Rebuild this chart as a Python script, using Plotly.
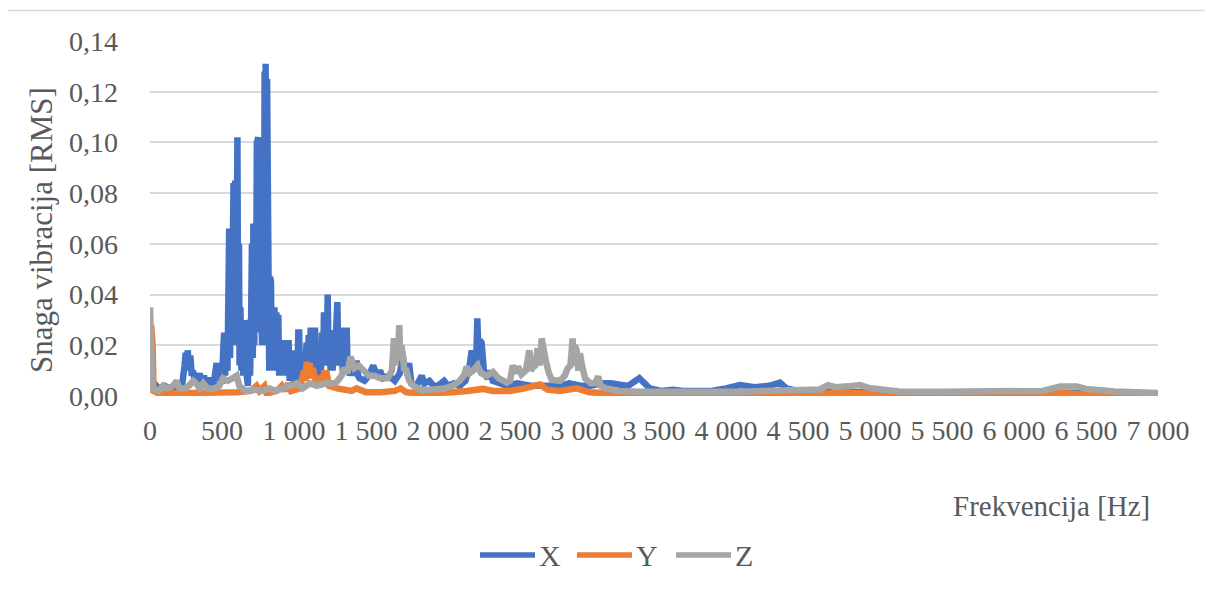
import plotly.graph_objects as go

# ---------------- data ----------------
freq_x = [0, 10, 30, 60, 100, 140, 180, 220, 240, 248, 255, 262, 270, 280, 290, 298, 310, 320, 335, 345,
          360, 375, 390, 417, 440, 463, 475, 486, 495,
          500, 510, 515, 522, 530, 538, 545, 550, 556, 562, 568, 574, 580, 585, 592, 598, 603, 607, 612, 618,
          622, 628, 635, 642, 648, 655, 662, 668, 674,
          680, 688, 695, 702, 708, 714, 718, 724, 730, 736, 742, 748, 752, 757, 763, 768, 773, 778, 784, 790,
          796, 800, 803, 808, 813, 818, 823, 828, 834, 840, 846, 852, 858, 864, 870, 877, 884, 891, 897, 904,
          910, 918, 925, 932, 940, 948, 955, 962, 970, 978, 985, 991, 998,
          1005, 1015, 1022, 1030, 1036, 1042, 1050, 1058, 1066, 1074, 1082, 1088, 1095, 1102, 1108, 1116, 1122, 1130, 1136, 1146,
          1152, 1160, 1168, 1178, 1186, 1195, 1202, 1208, 1214, 1220, 1226, 1234, 1240, 1248, 1254, 1262, 1268, 1276, 1282, 1292,
          1301, 1308, 1315, 1322, 1331, 1338, 1346, 1353, 1360, 1366, 1372, 1380, 1388, 1395, 1405, 1415, 1425, 1435, 1445, 1455,
          1490, 1520, 1550, 1575, 1597, 1620, 1660, 1700, 1735, 1750, 1757, 1765, 1775, 1790, 1799, 1815, 1850, 1887, 1905, 1940,
          1970, 2000, 2042, 2070, 2110, 2150, 2190, 2215, 2234, 2245, 2255, 2265, 2273, 2282, 2290, 2303, 2320, 2345, 2361, 2380,
          2420, 2480, 2550, 2650, 2750, 2850, 2910, 3000, 3060, 3130, 3200, 3260, 3320, 3398, 3430, 3470, 3550, 3633, 3700, 3800,
          3900, 4000, 4097, 4200, 4300, 4375, 4420, 4500, 4600, 5000, 5500, 6000, 6500, 7000]
val_x = [0.002, 0.004, 0.005, 0.003, 0.004, 0.003, 0.004, 0.003, 0.012, 0.017, 0.010, 0.018, 0.012, 0.016, 0.008, 0.010, 0.006, 0.009, 0.005, 0.009,
         0.004, 0.008, 0.004, 0.007, 0.004, 0.013, 0.006, 0.012, 0.006,
         0.006, 0.020, 0.025, 0.008, 0.024, 0.010, 0.055, 0.066, 0.015, 0.065, 0.020, 0.080, 0.084, 0.020, 0.085, 0.030, 0.100, 0.102, 0.025, 0.060,
         0.012, 0.035, 0.010, 0.030, 0.008, 0.029, 0.028, 0.010, 0.004,
         0.004, 0.030, 0.008, 0.030, 0.060, 0.015, 0.068, 0.020, 0.068, 0.025, 0.100, 0.030, 0.102, 0.030, 0.071, 0.025, 0.071, 0.020, 0.090, 0.020,
         0.128, 0.030, 0.131, 0.040, 0.125, 0.015, 0.047, 0.010, 0.047, 0.045, 0.012, 0.035, 0.010, 0.035, 0.012, 0.033, 0.010, 0.032, 0.008, 0.022,
         0.008, 0.022, 0.010, 0.022, 0.008, 0.022, 0.010, 0.022, 0.006, 0.018, 0.008, 0.018, 0.005,
         0.005, 0.012, 0.004, 0.025, 0.025, 0.008, 0.012, 0.006, 0.016, 0.008, 0.021, 0.021, 0.008, 0.024, 0.010, 0.027, 0.012, 0.027, 0.010, 0.027,
         0.009, 0.012, 0.006, 0.015, 0.008, 0.025, 0.012, 0.033, 0.015, 0.030, 0.012, 0.040, 0.015, 0.020, 0.010, 0.026, 0.010, 0.020, 0.012, 0.035,
         0.037, 0.015, 0.027, 0.012, 0.027, 0.010, 0.027, 0.012, 0.027, 0.027, 0.010, 0.012, 0.008, 0.012, 0.008, 0.013, 0.009, 0.014, 0.008, 0.007,
         0.006, 0.008, 0.012, 0.008, 0.010, 0.007, 0.008, 0.006, 0.009, 0.012, 0.0155, 0.010, 0.013, 0.008, 0.013, 0.005, 0.004, 0.008, 0.005, 0.006,
         0.004, 0.004, 0.006, 0.004, 0.005, 0.004, 0.006, 0.010, 0.018, 0.012, 0.017, 0.012, 0.0306, 0.015, 0.022, 0.021, 0.009, 0.007, 0.010, 0.006,
         0.005, 0.004, 0.005, 0.004, 0.004, 0.004, 0.005, 0.004, 0.004, 0.005, 0.005, 0.0045, 0.004, 0.007, 0.005, 0.003, 0.002, 0.0025, 0.002, 0.0018,
         0.002, 0.003, 0.0043, 0.0035, 0.004, 0.0053, 0.003, 0.002, 0.0015, 0.0015, 0.0015, 0.0015, 0.0015, 0.001]

freq_y = [0, 8, 18, 25, 60, 200, 400, 600, 700, 740, 760, 795, 810, 880, 915, 935, 960, 980, 1040, 1070,
          1080, 1088, 1098, 1110, 1120, 1130, 1150, 1180, 1200, 1210, 1227, 1245, 1300, 1400, 1435, 1500, 1600, 1700, 1740, 1780,
          1900, 2000, 2100, 2200, 2314, 2380, 2500, 2600, 2708, 2760, 2850, 2963, 3050, 3200, 3400, 3600, 4000, 4500, 4650, 4800,
          4975, 5100, 5500, 6000, 6200, 6342, 6450, 6700, 7000]
val_y = [0.002, 0.028, 0.020, 0.002, 0.001, 0.001, 0.0015, 0.0015, 0.002, 0.004, 0.002, 0.004, 0.001, 0.002, 0.004, 0.002, 0.005, 0.002, 0.003, 0.010,
         0.006, 0.0135, 0.008, 0.013, 0.007, 0.011, 0.006, 0.007, 0.005, 0.009, 0.009, 0.004, 0.003, 0.002, 0.003, 0.0015, 0.0015, 0.002, 0.003, 0.0015,
         0.001, 0.001, 0.0015, 0.002, 0.0028, 0.002, 0.002, 0.003, 0.0045, 0.0025, 0.002, 0.003, 0.0015, 0.001, 0.0008, 0.0005, 0.0005, 0.0005, 0.001, 0.0013,
         0.001, 0.0003, 0.0003, 0.0003, 0.0007, 0.0012, 0.0007, 0.0003, 0.0002]

freq_z = [0, 5, 12, 20, 60, 90, 120, 160, 185, 205, 240, 270, 300, 320, 345, 370, 400, 450, 480, 507,
          540, 575, 602, 620, 660, 720, 780, 830, 870, 920, 980, 1020, 1060, 1110, 1160, 1220, 1290, 1330, 1347, 1370,
          1393, 1420, 1450, 1481, 1520, 1560, 1600, 1650, 1680, 1694, 1705, 1715, 1722, 1731, 1738, 1745, 1757, 1765, 1775, 1800,
          1830, 1880, 1950, 2000, 2050, 2100, 2150, 2180, 2199, 2220, 2245, 2273, 2300, 2340, 2382, 2420, 2450, 2477, 2500, 2519,
          2540, 2556, 2580, 2610, 2634, 2645, 2655, 2675, 2692, 2705, 2720, 2735, 2750, 2770, 2790, 2847, 2880, 2901, 2920, 2935,
          2942, 2950, 2963, 2975, 2986, 3000, 3021, 3060, 3090, 3113, 3130, 3170, 3250, 3400, 3600, 3800, 4000, 4100, 4300, 4500,
          4600, 4650, 4708, 4760, 4850, 4931, 4990, 5090, 5200, 5500, 6000, 6200, 6320, 6400, 6435, 6500, 6700, 7000]
val_z = [0.035, 0.030, 0.012, 0.003, 0.002, 0.004, 0.003, 0.004, 0.006, 0.003, 0.003, 0.004, 0.006, 0.005, 0.003, 0.005, 0.003, 0.003, 0.004, 0.007,
         0.006, 0.007, 0.008, 0.004, 0.002, 0.0025, 0.002, 0.003, 0.002, 0.003, 0.004, 0.005, 0.003, 0.005, 0.004, 0.005, 0.005, 0.008, 0.011, 0.009,
         0.0155, 0.011, 0.012, 0.010, 0.008, 0.008, 0.007, 0.007, 0.010, 0.0228, 0.012, 0.019, 0.014, 0.028, 0.015, 0.020, 0.016, 0.010, 0.011, 0.006,
         0.004, 0.0025, 0.0025, 0.0025, 0.003, 0.004, 0.006, 0.008, 0.0116, 0.009, 0.010, 0.012, 0.009, 0.008, 0.0095, 0.007, 0.006, 0.0053, 0.006, 0.012,
         0.009, 0.0116, 0.0085, 0.010, 0.018, 0.010, 0.011, 0.012, 0.0188, 0.012, 0.0227, 0.016, 0.0135, 0.009, 0.0063, 0.006, 0.008, 0.011, 0.012, 0.0227,
         0.012, 0.020, 0.018, 0.010, 0.0168, 0.012, 0.007, 0.005, 0.005, 0.0077, 0.004, 0.003, 0.002, 0.0017, 0.0015, 0.0017, 0.0017, 0.0017, 0.002, 0.0025,
         0.003, 0.0026, 0.0043, 0.0035, 0.0038, 0.0043, 0.0032, 0.0024, 0.0018, 0.0017, 0.0017, 0.002, 0.0037, 0.0036, 0.0037, 0.0028, 0.0018, 0.0012]

series_names = ["X", "Y", "Z"]
series_colors = ["#4472C4", "#ED7D31", "#A5A5A5"]

x_ticks = [0, 500, 1000, 1500, 2000, 2500, 3000, 3500, 4000, 4500, 5000, 5500, 6000, 6500, 7000]
y_ticks = [0, 0.02, 0.04, 0.06, 0.08, 0.10, 0.12, 0.14]

x_title = "Frekvencija [Hz]"
y_title = "Snaga vibracija [RMS]"

# ---------------- figure ----------------
FONT = "Liberation Serif"
TXT = "#595959"

fig = go.Figure()
for name, fx, vy, col in zip(series_names, [freq_x, freq_y, freq_z], [val_x, val_y, val_z], series_colors):
    fig.add_trace(go.Scatter(x=fx, y=vy, mode="lines", name=name, showlegend=False,
                             line=dict(color=col, width=6.5, shape="linear"),
                             hoverinfo="x+y+name"))

# the page body adds an 8px margin; lay out the figure so the plot lands where the reference has it
OFF = 8
W, H = 1213 - OFF, 590 - OFF
L, T = 150 - OFF, 41 - OFF
R = W - (1158 - OFF)
B = H - (396 - OFF)
pw, ph = W - L - R, H - T - B


def px(xp):
    return (xp - OFF - L) / pw


def py(yp):
    return (H - B - (yp - OFF)) / ph


annotations = [
    dict(text=x_title, xref="paper", yref="paper", x=px(1152), y=py(506),
         xanchor="right", yanchor="middle", showarrow=False,
         font=dict(family=FONT, size=29, color=TXT)),
    dict(text=y_title, xref="paper", yref="paper", x=px(42), y=py(230),
         xanchor="center", yanchor="middle", textangle=-90, showarrow=False,
         font=dict(family=FONT, size=31, color=TXT)),
]
shapes = [
    dict(type="line", xref="paper", yref="paper", x0=px(7), x1=px(1213), y0=py(10.5), y1=py(10.5),
         line=dict(color="#D9D9D9", width=1.5)),
    dict(type="line", xref="paper", yref="paper", x0=px(7), x1=px(7), y0=py(10.5), y1=py(590),
         line=dict(color="#D9D9D9", width=1.5)),
]

# legend drawn below the axis title, laid out as in the reference
legend_line_start = [480, 577, 676]
legend_y = 555
for name, col, x0 in zip(series_names, series_colors, legend_line_start):
    shapes.append(dict(type="line", xref="paper", yref="paper", x0=px(x0), x1=px(x0 + 55),
                       y0=py(legend_y), y1=py(legend_y), line=dict(color=col, width=5.5)))
    annotations.append(dict(text=name, xref="paper", yref="paper", x=px(x0 + 57), y=py(legend_y),
                            xanchor="left", yanchor="middle", showarrow=False,
                            font=dict(family=FONT, size=30, color=TXT)))

fig.update_layout(
    template="none",
    width=W, height=H,
    margin=dict(l=L, r=R, t=T, b=B),
    paper_bgcolor="white", plot_bgcolor="white",
    separators=", ",
    font=dict(family=FONT, size=28, color=TXT),
    showlegend=False,
    xaxis=dict(range=[0, 7000], tickvals=x_ticks, tickformat=",d", showgrid=False,
               zeroline=False, showline=False, ticks="", ticklabelstandoff=15,
               tickfont=dict(family=FONT, size=28, color=TXT)),
    yaxis=dict(range=[0, 0.14], tickvals=y_ticks, tickformat=".2f", showgrid=True,
               gridcolor="#D9D9D9", gridwidth=1.5, zeroline=False, showline=False,
               ticks="", ticklabelstandoff=31,
               tickfont=dict(family=FONT, size=28, color=TXT)),
    annotations=annotations,
    shapes=shapes,
)

fig.write_html("out.html")
